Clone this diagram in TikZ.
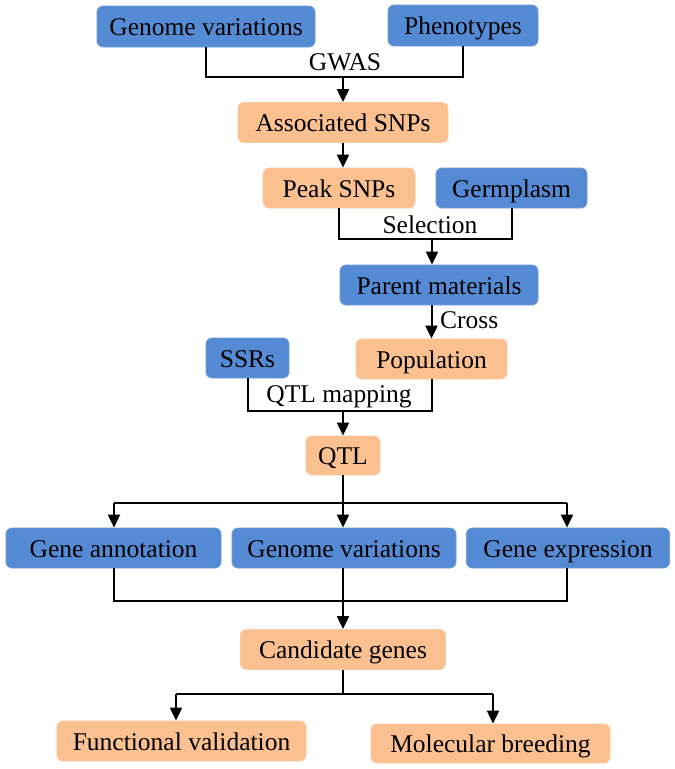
\documentclass[tikz,border=0pt]{standalone}
\usepackage{fontspec}
\setmainfont{Liberation Serif}
\usetikzlibrary{arrows.meta}
\definecolor{bbox}{RGB}{84,139,212}
\definecolor{obox}{RGB}{250,192,144}
\tikzset{
  box/.style={rectangle, rounded corners=6pt, inner sep=0pt, font=\fontsize{25.5}{30}\selectfont, text=black, text height=18pt, text depth=0pt},
  bluebox/.style={box, fill=bbox, draw=bbox!85!white, line width=0.8pt},
  orangebox/.style={box, fill=obox, draw=obox!85!white, line width=0.8pt},
  conn/.style={line width=2pt, draw=black},
  arr/.style={conn, -{Triangle[length=13pt,width=12pt]}},
  lbl/.style={font=\fontsize{25.5}{30}\selectfont, inner sep=0pt, text height=18pt, text depth=0pt}
}
\begin{document}
\begin{tikzpicture}[x=1pt, y=-1pt]
\useasboundingbox (0,0) rectangle (675,769);
\fill[white] (0,0) rectangle (675,769);
% nodes
\node[bluebox, minimum width=218pt, minimum height=41pt] (gv1) at (206,26.5) {Genome variations};
\node[bluebox, minimum width=150pt, minimum height=41pt] (ph) at (463,25.5) {Phenotypes};
\node[orangebox, minimum width=210pt, minimum height=40pt] (assoc) at (343,122.5) {Associated SNPs};
\node[orangebox, minimum width=152pt, minimum height=40pt] (peak) at (339,188) {Peak SNPs};
\node[bluebox, minimum width=151pt, minimum height=40pt] (germ) at (511.5,188) {Germplasm};
\node[bluebox, minimum width=198pt, minimum height=40pt] (parent) at (439,285) {Parent materials};
\node[orangebox, minimum width=151pt, minimum height=40pt] (pop) at (431.5,359) {Population};
\node[bluebox, minimum width=83pt, minimum height=40pt] (ssr) at (247.5,358) {SSRs};
\node[orangebox, minimum width=74pt, minimum height=39pt] (qtl) at (343,455.5) {QTL};
\node[bluebox, minimum width=215pt, minimum height=40pt] (ga) at (113.5,548) {Gene annotation};
\node[bluebox, minimum width=224pt, minimum height=40pt] (gv2) at (344,548) {Genome variations};
\node[bluebox, minimum width=203pt, minimum height=40pt] (ge) at (568,548) {Gene expression};
\node[orangebox, minimum width=205pt, minimum height=40pt] (cand) at (343,649.5) {Candidate genes};
\node[orangebox, minimum width=249pt, minimum height=40pt] (fv) at (181.5,741) {Functional validation};
\node[orangebox, minimum width=239pt, minimum height=39pt] (mb) at (490.5,743.5) {Molecular breeding};
% junctions
\coordinate (j1) at (343,77);
\coordinate (j2) at (432,239);
\coordinate (j3) at (343,411);
\coordinate (j4) at (343,503);
\coordinate (j5) at (343,601);
\coordinate (j6) at (343,694);
\coordinate (fvin) at (176,694);
\coordinate (mbin) at (493,694);
\coordinate (gain) at (114,503);
\coordinate (gein) at (567,503);
% GWAS
\draw[conn] (gv1.south) |- (j1) -| (ph.south);
\draw[arr] (j1) -- (assoc.north);
\node[lbl] (gwas) at (345,61) {GWAS};
% to peak
\draw[arr] (assoc.south) -- (assoc.south |- peak.north);
% Selection
\draw[conn] (peak.south) |- (j2) -| (germ.south);
\draw[arr] (j2) -- (j2 |- parent.north);
\node[lbl] (sel) at (430,224) {Selection};
% Cross
\draw[arr] (pop.north |- parent.south) -- (pop.north);
\node[lbl, anchor=west] (cross) at (440,319) {Cross};
% QTL mapping
\draw[conn] (ssr.south) |- (j3) -| (pop.south);
\draw[arr] (j3) -- (qtl.north);
\node[lbl] (qm) at (339,393) {QTL mapping};
% QTL branches
\draw[conn] (qtl.south) -- (j4);
\draw[conn] (gain) -- (gein);
\draw[arr] (gain) -- (gain |- ga.north);
\draw[arr] (j4) -- (j4 |- gv2.north);
\draw[arr] (gein) -- (gein |- ge.north);
% merge
\draw[conn] (gain |- ga.south) |- (j5) -| (gein |- ge.south);
\draw[conn] (j4 |- gv2.south) -- (j5);
\draw[arr] (j5) -- (cand.north);
% candidate branches
\draw[conn] (cand.south) -- (j6);
\draw[conn] (fvin) -- (mbin);
\draw[arr] (fvin) -- (fvin |- fv.north);
\draw[arr] (mbin) -- (mbin |- mb.north);
\end{tikzpicture}
\end{document}
